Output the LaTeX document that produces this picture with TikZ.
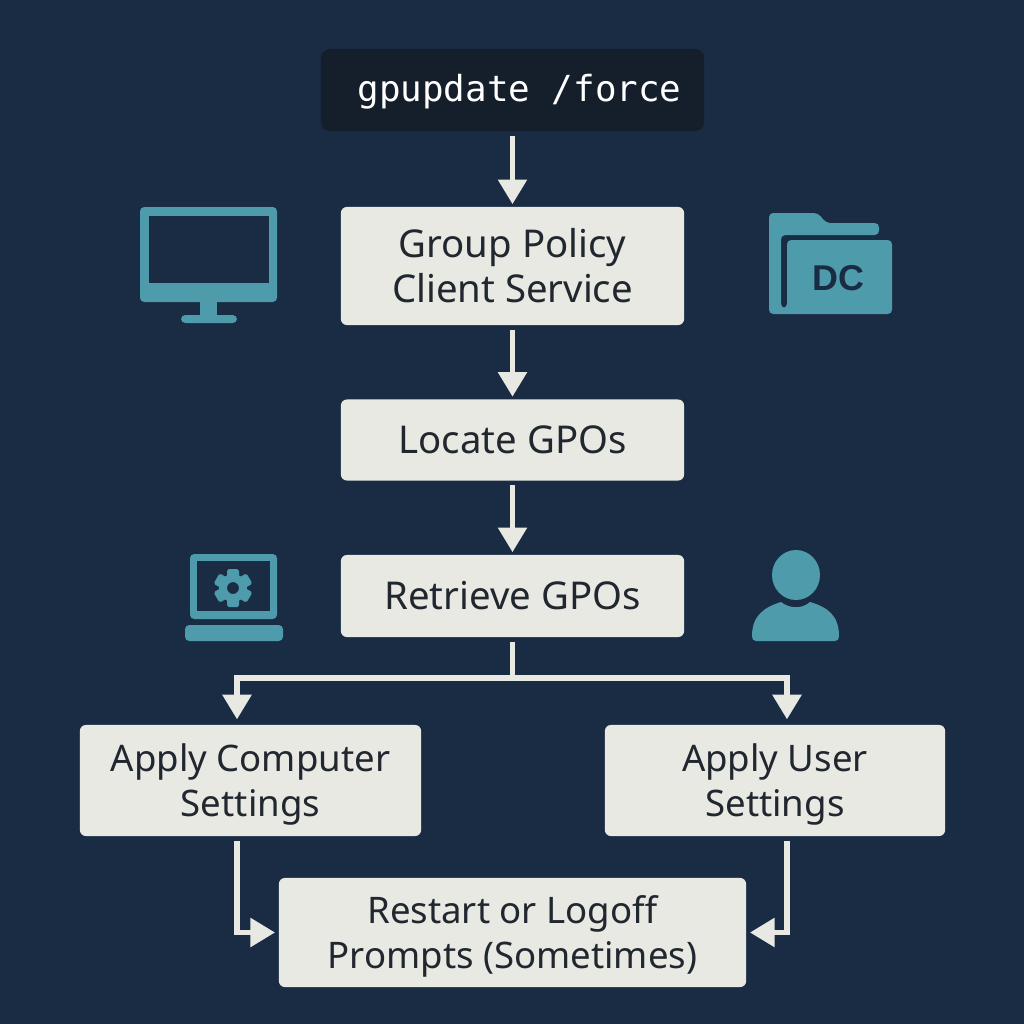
\documentclass[tikz,border=0pt]{standalone}
\usepackage{fontspec}
\setmainfont{Noto Sans}
\setmonofont{DejaVu Sans Mono}
\newfontfamily\dcfont{Liberation Sans}
\usetikzlibrary{arrows.meta}

\definecolor{bgnavy}{HTML}{1A2C44}
\definecolor{cmdblack}{HTML}{151F2C}
\definecolor{boxgrey}{HTML}{E9E9E4}
\definecolor{textdark}{HTML}{20272E}
\definecolor{iconteal}{HTML}{4E9BAB}

\newcommand{\lowerline}{\rule{0pt}{0.36cm}}

\tikzset{
  stepbox/.style={fill=boxgrey, rounded corners=1.7pt, text=textdark, align=center, inner sep=0pt,
    font=\fontsize{10.9}{12.8}\selectfont},
  lowerbox/.style={stepbox, font=\fontsize{10.4}{12.8}\selectfont},
  cmdbox/.style={fill=cmdblack, rounded corners=2.5pt, text=white, inner sep=0pt,
    text height=0.36cm, text depth=0.13cm, font=\ttfamily\fontsize{10.2}{12.8}\selectfont},
  link/.style={draw=boxgrey, line width=1.5pt, -{Triangle[length=7pt, width=8pt]}},
  linkbare/.style={draw=boxgrey, line width=1.5pt},
  icon/.style={fill=iconteal, rounded corners=1.2pt},
}

\begin{document}
\begin{tikzpicture}[x=0.01cm, y=-0.01cm]
    \fill[bgnavy] (0, 0) rectangle (1024, 1024);

    % boxes
    \node[cmdbox, minimum width=3.83cm, minimum height=0.82cm] (cmd) at (512.5, 90) {\hspace{0.14cm}gpupdate /force};
    \node[stepbox, minimum width=3.43cm, minimum height=1.18cm] (client) at (512.5, 266) {Group Policy\\Client Service};
    \node[stepbox, minimum width=3.43cm, minimum height=0.81cm] (locate) at (512.5, 440) {Locate GPOs};
    \node[stepbox, minimum width=3.43cm, minimum height=0.82cm] (retrieve) at (512.5, 596) {Retrieve GPOs};
    \node[lowerbox, minimum width=3.41cm, minimum height=1.11cm] (computer) at (250.5, 780.5) {\lowerline Apply Computer\\Settings};
    \node[lowerbox, minimum width=3.40cm, minimum height=1.11cm] (user) at (775, 780.5) {\lowerline Apply User\\Settings};
    \node[lowerbox, minimum width=4.67cm, minimum height=1.09cm] (restart) at (512.5, 932.5) {\lowerline Restart or Logoff\\Prompts (Sometimes)};

    % straight arrows
    \foreach \from/\to in {cmd/client, client/locate, locate/retrieve} {
      \draw[link, shorten <=1.1pt, shorten >=0.6pt] (\from) -- (\to);
    }

    % split below retrieve
    \coordinate (split) at (512.5, 678);
    \coordinate (computerdrop) at (237, 678);
    \coordinate (userdrop) at (787, 678);
    \draw[linkbare, shorten <=1.1pt] (retrieve) -- (split);
    \draw[linkbare] ([xshift=-0.75pt]computerdrop) -- ([xshift=0.75pt]userdrop);
    \draw[link, shorten >=1.4pt] (computerdrop) -- (computerdrop |- computer.north);
    \draw[link, shorten >=1.4pt] (userdrop) -- (userdrop |- user.north);

    % down to the last box
    \draw[link, shorten <=1.1pt, shorten >=0.9pt] (computerdrop |- computer.south) |- (restart.west);
    \draw[link, shorten <=1.1pt, shorten >=0.9pt] (userdrop |- user.south) |- (restart.east);

    % 1. monitor
    \fill[icon] (140, 207) rectangle (277, 302);
    \fill[bgnavy] (149, 216) rectangle (269, 283);
    \fill[iconteal] (200, 300) rectangle (217, 317);
    \fill[icon] (181, 315) rectangle (237, 323);

    % 2. folder
    \fill[icon] (769, 314) -- (769, 213) -- (818, 213) -- (826, 223) -- (879, 223) -- (879, 235)
      -- (781, 235) -- (781, 308) -- (787, 308) -- (787, 240) -- (892, 240) -- (892, 314) -- cycle;
    \node[text=bgnavy, inner sep=0pt, font=\dcfont\bfseries\fontsize{10.2}{12}\selectfont] (dc) at (838, 278.5) {DC};

    % 3. laptop with gear
    \fill[icon] (190, 554) rectangle (277, 619);
    \fill[bgnavy] (197, 561) rectangle (270, 611);
    \fill[icon] (185, 625) rectangle (283, 641);
    \foreach \a in {0, 60, ..., 300} {
      \fill[iconteal, rounded corners=0.5pt, rotate around={\a:(233, 588)}] (227, 569) rectangle (239, 580);
    }
    \fill[iconteal, even odd rule] (233, 588) circle [radius=14] (233, 588) circle [radius=6];

    % 4. person
    \fill[iconteal] (796, 575) ellipse [x radius=24, y radius=25];
    \fill[iconteal] (756, 641) .. controls (753, 641) and (752, 639) .. (752, 636)
      .. controls (752, 615) and (765, 607) .. (781, 602)
      .. controls (790, 609) and (802, 609) .. (810, 602)
      .. controls (827, 607) and (839, 615) .. (839, 636)
      .. controls (839, 639) and (838, 641) .. (835, 641) -- cycle;
\end{tikzpicture}
\end{document}
